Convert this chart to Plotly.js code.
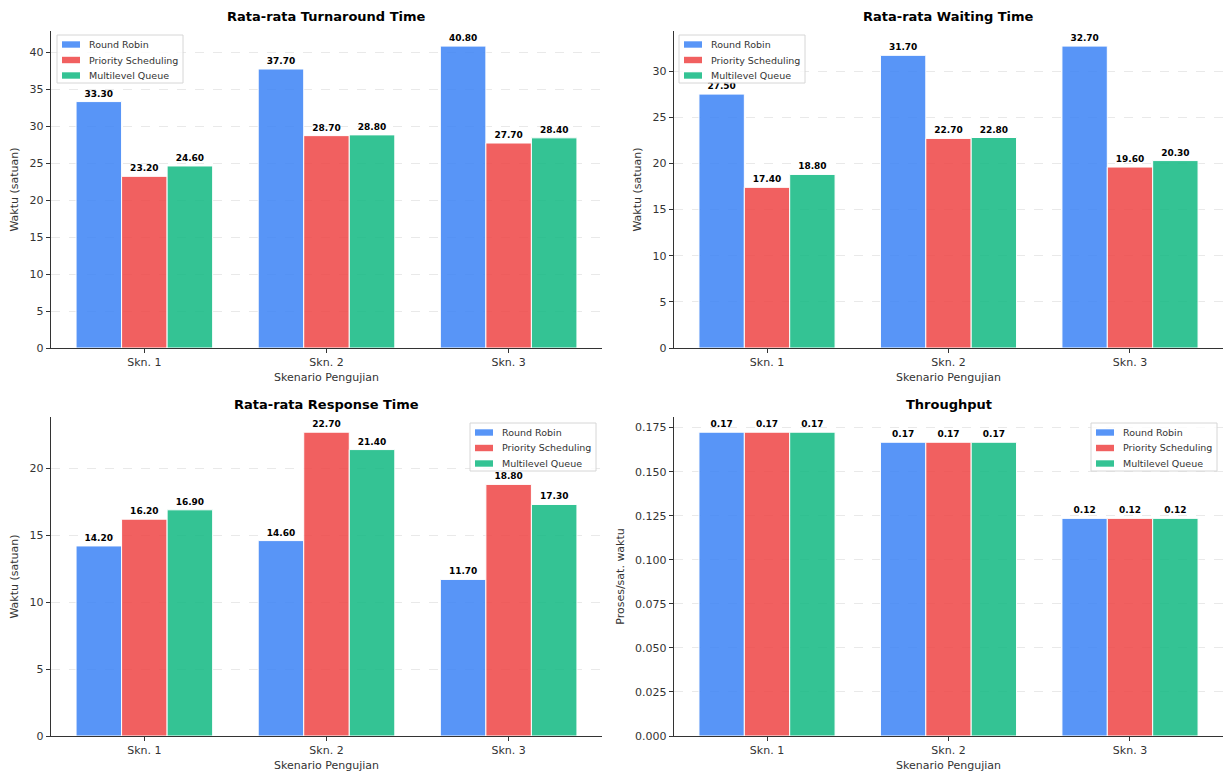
<!DOCTYPE html>
<html>
<head>
<meta charset="utf-8">
<script src="https://cdn.plot.ly/plotly-3.0.1.min.js"></script>
<style>html,body{margin:0;padding:0;background:#fff}#chart{width:1224px;height:773px}</style>
</head>
<body>
<div id="chart"></div>
<script>
const categories = ["Skn. 1", "Skn. 2", "Skn. 3"];
const seriesNames = ["Round Robin", "Priority Scheduling", "Multilevel Queue"];

const turnaroundRR = [33.3, 37.7, 40.8];
const turnaroundPS = [23.2, 28.7, 27.7];
const turnaroundMLQ = [24.6, 28.8, 28.4];

const waitingRR = [27.5, 31.7, 32.7];
const waitingPS = [17.4, 22.7, 19.6];
const waitingMLQ = [18.8, 22.8, 20.3];

const responseRR = [14.2, 14.6, 11.7];
const responsePS = [16.2, 22.7, 18.8];
const responseMLQ = [16.9, 21.4, 17.3];

const throughputRR = [0.1724, 0.1667, 0.1235];
const throughputPS = [0.1724, 0.1667, 0.1235];
const throughputMLQ = [0.1724, 0.1667, 0.1235];

const panelTitles = ["Rata-rata Turnaround Time", "Rata-rata Waiting Time", "Rata-rata Response Time", "Throughput"];
const yTitles = ["Waktu (satuan)", "Waktu (satuan)", "Waktu (satuan)", "Proses/sat. waktu"];
const xTitle = "Skenario Pengujian";

const colors = ["rgba(59,130,246,0.85)", "rgba(239,68,68,0.85)", "rgba(16,185,129,0.85)"];
const FONT = "DejaVu Sans, sans-serif";
const W = 1224, H = 773;
const fx = x => x / W;
const fy = y => 1 - y / H;

const panels = [
  [turnaroundRR, turnaroundPS, turnaroundMLQ],
  [waitingRR, waitingPS, waitingMLQ],
  [responseRR, responsePS, responseMLQ],
  [throughputRR, throughputPS, throughputMLQ]
];

const traces = [];
panels.forEach((series, p) => {
  const ax = p === 0 ? "" : String(p + 1);
  series.forEach((vals, s) => {
    traces.push({
      type: "bar",
      x: categories,
      y: vals,
      name: seriesNames[s],
      xaxis: "x" + ax,
      yaxis: "y" + ax,
      showlegend: false,
      marker: {color: colors[s], line: {color: "#ffffff", width: 1}},
      text: vals.map(v => v.toFixed(2)),
      textposition: "outside",
      constraintext: "none",
      cliponaxis: false,
      textfont: {family: FONT, size: 9, color: "#000", weight: "bold"},
      hoverinfo: "x+y+name"
    });
  });
});

const xDom = [[51 / W, 602 / W], [674 / W, 1223 / W]];
const yDom = [[fy(348), fy(31)], [fy(736), fy(417)]];
const yMax = [
  Math.max(...turnaroundRR, ...turnaroundPS, ...turnaroundMLQ) * 1.05,
  Math.max(...waitingRR, ...waitingPS, ...waitingMLQ) * 1.05,
  Math.max(...responseRR, ...responsePS, ...responseMLQ) * 1.05,
  Math.max(...throughputRR, ...throughputPS, ...throughputMLQ) * 1.05
];
const yDtick = [5, 5, 5, 0.025];
const yFormat = ["", "", "", ".3f"];

const layout = {
  width: W, height: H,
  margin: {l: 0, r: 0, t: 0, b: 0},
  paper_bgcolor: "#fff", plot_bgcolor: "#fff",
  font: {family: FONT, size: 11, color: "#333"},
  barmode: "group", bargap: 0.25, bargroupgap: 0,
  showlegend: false,
  annotations: [],
  shapes: []
};

// legend boxes (pixel layout: left, top)
const legendBoxes = [
  {left: 57, top: 35},
  {left: 679, top: 35},
  {left: 470, top: 423},
  {left: 1091, top: 423}
];
const LW = 126, LH = 48;

for (let p = 0; p < 4; p++) {
  const ax = p === 0 ? "" : String(p + 1);
  const col = p % 2, row = Math.floor(p / 2);
  layout["xaxis" + ax] = {
    domain: xDom[col], anchor: "y" + ax,
    type: "category", range: [-0.5125, 2.5125],
    showline: true, linecolor: "#333", linewidth: 1.2,
    ticks: "outside", ticklen: 4, tickcolor: "#333",
    tickfont: {size: 11, color: "#333", family: FONT},
    showgrid: false, zeroline: false,
    title: {text: xTitle, font: {size: 11, color: "#333", family: FONT}, standoff: 4}
  };
  layout["yaxis" + ax] = {
    domain: yDom[row], anchor: "x" + ax,
    range: [0, yMax[p]], dtick: yDtick[p], tick0: 0, tickformat: yFormat[p],
    showline: true, linecolor: "#333", linewidth: 1.2,
    ticks: "outside", ticklen: 4, tickcolor: "#333",
    tickfont: {size: 11, color: "#333", family: FONT},
    showgrid: true, gridcolor: "#e3e3e3", griddash: "dash", gridwidth: 0.8,
    zeroline: false,
    title: {text: yTitles[p], font: {size: 11, color: "#333", family: FONT}, standoff: 8}
  };
  layout.annotations.push({
    text: "<b>" + panelTitles[p] + "</b>",
    xref: "x" + ax + " domain", yref: "paper",
    x: 0.5, y: row === 0 ? fy(17) : fy(404),
    xanchor: "center", yanchor: "middle", showarrow: false,
    font: {size: 13, color: "#000", family: FONT}
  });

  // custom legend
  const b = legendBoxes[p];
  layout.shapes.push({
    type: "rect", xref: "paper", yref: "paper", layer: "above",
    x0: fx(b.left), x1: fx(b.left + LW), y0: fy(b.top + LH), y1: fy(b.top),
    fillcolor: "rgba(255,255,255,0.8)", line: {color: "#d6d6d6", width: 1}
  });
  seriesNames.forEach((name, s) => {
    const cy = b.top + 9.5 + s * 15.5;
    layout.shapes.push({
      type: "rect", xref: "paper", yref: "paper", layer: "above",
      x0: fx(b.left + 5), x1: fx(b.left + 23), y0: fy(cy + 3.2), y1: fy(cy - 3.2),
      fillcolor: colors[s], line: {width: 0}
    });
    layout.annotations.push({
      text: name, xref: "paper", yref: "paper",
      x: fx(b.left + 30), y: fy(cy), xanchor: "left", yanchor: "middle",
      showarrow: false, font: {size: 9.5, color: "#333", family: FONT}
    });
  });
}

Plotly.newPlot("chart", traces, layout, {displayModeBar: false, staticPlot: true});
</script>
</body>
</html>
